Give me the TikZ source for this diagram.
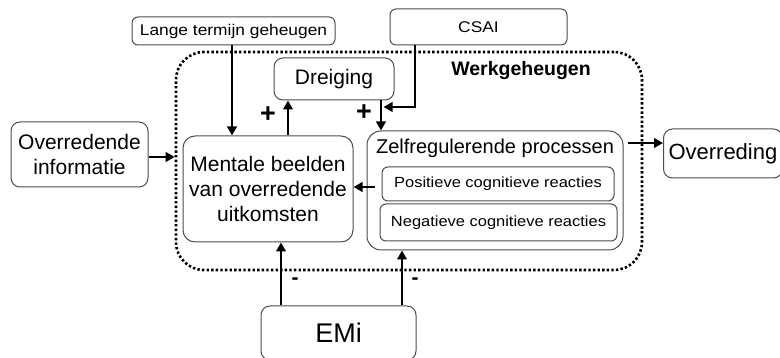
\documentclass[tikz,border=0pt]{standalone}
\usepackage{fontspec}
\setmainfont{Liberation Sans}
\newfontfamily\widefont{Liberation Sans}[FakeStretch=1.12]
\usetikzlibrary{arrows.meta,calc}
\begin{document}
\begin{tikzpicture}[x=1pt,y=-1pt,
  box/.style={draw=black!70,line width=1pt,rounded corners=9pt,inner sep=0pt,align=center},
  sbox/.style={box,rounded corners=6pt},
  arr/.style={line width=2.8pt,-{Triangle[length=9pt,width=9.5pt]}},
  sign/.style={font=\fontsize{27}{27}\selectfont\bfseries,inner sep=0pt},
  msign/.style={font=\fontsize{21}{21}\selectfont\bfseries,inner sep=0pt},
  frame/.style={draw=black,line width=2.6pt,dash pattern=on 2.4pt off 2.2pt,rounded corners=28pt,inner sep=0pt}]
\useasboundingbox (0,0) rectangle (780,358);

% working memory frame
\node[frame,minimum width=466pt,minimum height=218pt] (wg) at (409,161) {};
\node[anchor=base,font=\fontsize{19.5}{22}\selectfont\bfseries] (wgt) at (521,76) {Werkgeheugen};

% boxes
\node[sbox,minimum width=203pt,minimum height=28pt,font=\widefont\fontsize{15.5}{18}\selectfont] (ltg) at (233.5,31) {Lange termijn geheugen};
\node[sbox,minimum width=177pt,minimum height=36pt,font=\widefont\fontsize{15.5}{18}\selectfont] (csai) at (478.5,27) {CSAI};
\node[box,minimum width=120pt,minimum height=42pt,font=\fontsize{21}{25}\selectfont] (drei) at (334,79) {Dreiging};
\node[box,minimum width=137pt,minimum height=65pt,font=\fontsize{21}{25}\selectfont] (ovinf) at (79.5,154.5) {Overredende\\informatie};
\node[box,rounded corners=12pt,minimum width=170pt,minimum height=106pt,font=\fontsize{21}{25}\selectfont] (ment) at (268,189) {Mentale beelden\\van overredende\\uitkomsten};
\node[box,rounded corners=14pt,minimum width=256pt,minimum height=119pt] (zelf) at (495,190.5) {};
\node[anchor=base,font=\fontsize{20}{24}\selectfont,inner sep=0pt] (zelft) at (495,153.5) {Zelfregulerende processen};
\node[sbox,minimum width=232pt,minimum height=34pt,font=\widefont\fontsize{14.7}{17}\selectfont] (pos) at (498,184) {Positieve cognitieve reacties};
\node[sbox,minimum width=237pt,minimum height=37pt,font=\widefont\fontsize{14.7}{17}\selectfont] (neg) at (498.5,222.5) {Negatieve cognitieve reacties};
\node[box,anchor=west,inner xsep=5pt,minimum height=49pt,font=\fontsize{22}{26}\selectfont] (overr) at (663,153.5) {Overreding};
\node[box,minimum width=155pt,minimum height=54pt,font=\fontsize{27}{30}\selectfont] (emi) at (338.5,333) {EMi};

% connectors
\draw[arr] (ltg.south -| 232,0) -- (ment.north -| 232,0);
\draw[arr] ([xshift=20pt]ment.north) -- ([xshift=20pt]ment.north |- drei.south);
\draw[arr] ([xshift=47pt]drei.south) -- ([xshift=47pt]drei.south |- zelf.north);
\coordinate (cj) at (383.5,107);
\draw[arr] ([xshift=-63.5pt]csai.south) |- (cj);
\draw[arr] ([yshift=-2.5pt]ovinf.east) -- ([yshift=-2.5pt]ovinf.east -| wg.west);
\draw[arr,shorten <=4pt] ([yshift=10.5pt]overr.west -| zelf.east) -- ([yshift=10.5pt]overr.west);
\draw[arr] ([xshift=-7pt,yshift=-3pt]pos.west) -- ([yshift=-3pt]pos.west -| ment.east);
\draw[arr] ([xshift=-57.5pt]emi.north) -- ([xshift=-57.5pt]emi.north |- ment.south);
\draw[arr] ([xshift=63.5pt]emi.north) -- ([xshift=63.5pt]emi.north |- zelf.south);

% signs
\node[sign] (p1) at (268,115) {+};
\node[sign] (p2) at (364,113) {+};
\node[msign] (m1) at (295,281) {-};
\node[msign] (m2) at (415,281) {-};
\end{tikzpicture}
\end{document}
